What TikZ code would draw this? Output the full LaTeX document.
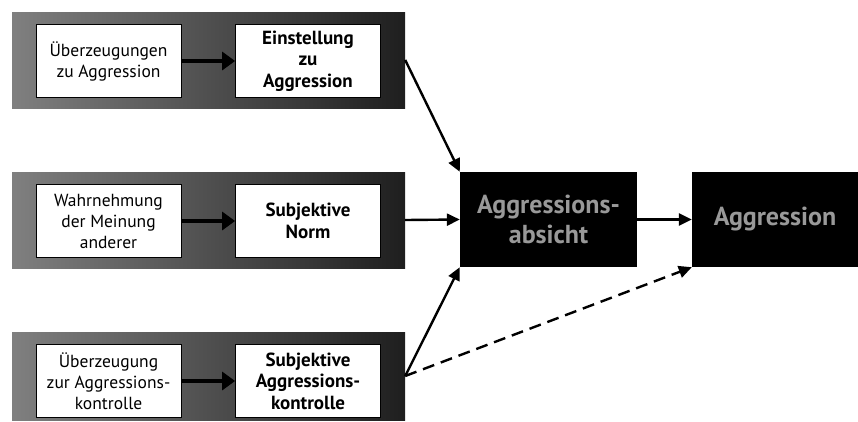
\documentclass[tikz,border=0pt]{standalone}
\usepackage{fontspec}
\setmainfont{PT Sans}
\usetikzlibrary{arrows.meta}
\begin{document}
\begin{tikzpicture}[x=1pt,y=-1pt,
	band/.style={rectangle,minimum width=393pt,left color=black!50,right color=black!88,inner sep=0},
	inbox/.style={rectangle,draw=black,line width=0.8pt,fill=white,minimum width=145pt,minimum height=73.5pt,align=center,inner sep=0,font=\fontsize{17.5}{21}\selectfont},
	boldbox/.style={inbox,font=\fontsize{19}{21.5}\selectfont\bfseries},
	outbox/.style={rectangle,fill=black,minimum height=95pt,align=center,inner sep=0,text=black!40,font=\fontsize{26}{30}\selectfont\bfseries},
	thick arrow/.style={-{Triangle[length=13pt,width=18pt]},line width=4pt},
	thin arrow/.style={-{Triangle[length=13pt,width=12pt]},line width=2.4pt}]
	\useasboundingbox (0,0) rectangle (858,421);
	\node[band,minimum height=96pt] (b1) at (208.5,60) {};
	\node[band,minimum height=96pt] (b2) at (208.5,220) {};
	\node[band,minimum height=88pt] (b3) at (208.5,376) {};
	\node[inbox] (u1) at (108.5,61) {Überzeugungen\\zu Aggression};
	\node[boldbox] (e1) at (308,61) {Einstellung\\zu\\Aggression};
	\node[inbox] (u2) at (108.5,221) {Wahrnehmung\\der Meinung\\anderer};
	\node[boldbox] (e2) at (308,221) {Subjektive\\Norm};
	\node[inbox] (u3) at (108.5,381) {Überzeugung\\zur Aggressions-\\kontrolle};
	\node[boldbox] (e3) at (308,381) {Subjektive\\Aggressions-\\kontrolle};
	\node[outbox,minimum width=177pt] (abs) at (548.5,219.5) {Aggressions-\\absicht};
	\node[outbox,minimum width=166pt] (agg) at (775,219.5) {Aggression};
	\draw[thick arrow] (u1) -- (e1);
	\draw[thick arrow] (u2) -- (e2);
	\draw[thick arrow] (u3) -- (e3);
	\draw[thin arrow] (b1.east) -- (abs.north west);
	\draw[thin arrow] (b2.east) -- (abs.west);
	\draw[thin arrow] (b3.east) -- (abs.south west);
	\draw[thin arrow,dash pattern=on 12pt off 7pt] (b3.east) -- (agg.south west);
	\draw[thin arrow] (abs) -- (agg);
\end{tikzpicture}
\end{document}
